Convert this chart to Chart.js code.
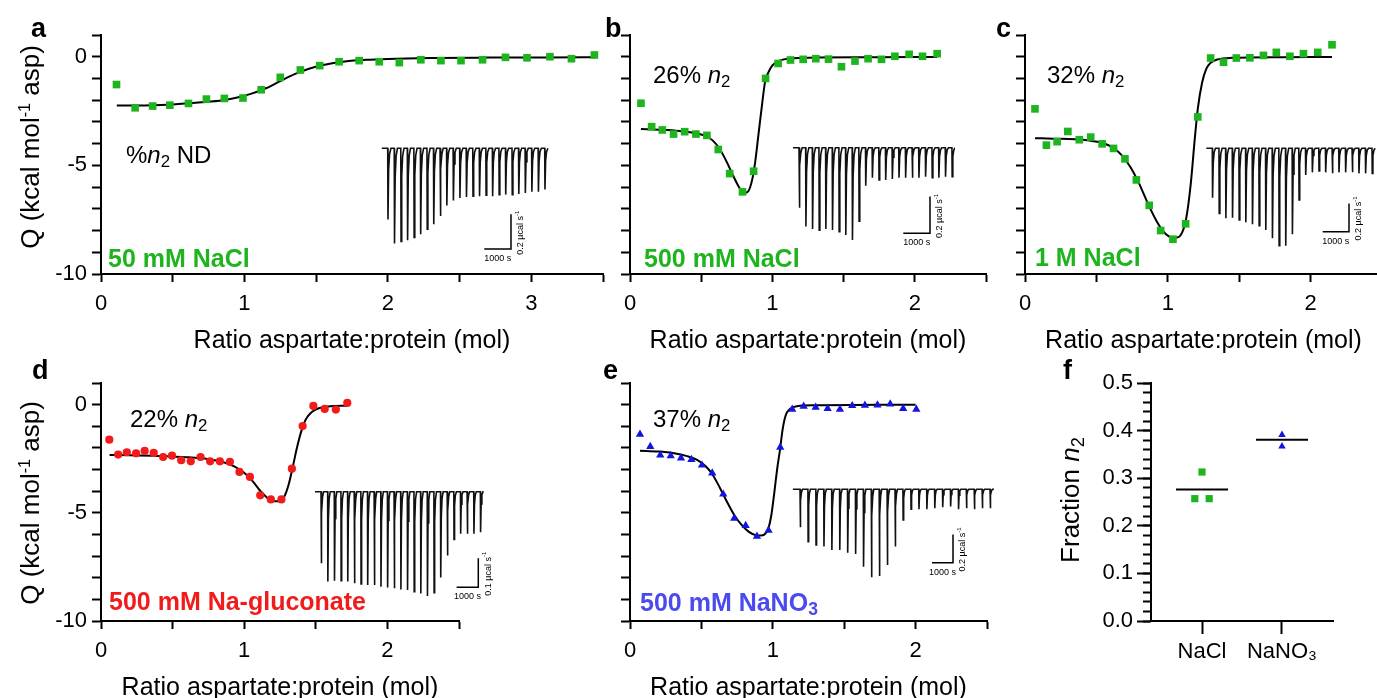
<!DOCTYPE html>
<html>
<head>
<meta charset="utf-8">
<script src="https://cdn.jsdelivr.net/npm/chart.js@4.4.1/dist/chart.umd.min.js"></script>
<style>
html, body { margin: 0; padding: 0; background: #fff; overflow: hidden; width: 1377px; height: 698px; }
body { position: relative; font-family: "Liberation Sans", Arial, sans-serif; color: #000; }
canvas { position: absolute; }
.t { position: absolute; white-space: nowrap; line-height: 1; }
.t sub { font-size: 0.7em; vertical-align: -0.25em; line-height: 0; }
.t sup { font-size: 0.62em; vertical-align: 0.55em; line-height: 0; }
.rot { transform: translate(-50%, -50%) rotate(-90deg); }
</style>
</head>
<body>
<script>
const FONT = '"Liberation Sans", Arial, sans-serif';
const GREEN = '#1eb41e', RED = '#f21b1b', BLUE = '#1414e0', BLUE_TXT = '#4a4aee';

// isotherms: molar ratio vs heat (kcal/mol asp)
const aX = [0.108, 0.238, 0.36, 0.48, 0.61, 0.735, 0.86, 0.99, 1.117, 1.25, 1.39, 1.525, 1.66, 1.8, 1.94, 2.08, 2.23, 2.37, 2.51, 2.66, 2.82, 2.97, 3.13, 3.28, 3.44];
const aQ = [-1.28, -2.35, -2.27, -2.23, -2.15, -1.95, -1.92, -1.9, -1.52, -0.95, -0.61, -0.41, -0.23, -0.18, -0.23, -0.27, -0.14, -0.18, -0.18, -0.14, -0.03, -0.05, 0.0, -0.09, 0.08];
const aFitX = [0.11, 0.3, 0.5, 0.7, 0.85, 0.95, 1.05, 1.15, 1.25, 1.35, 1.45, 1.55, 1.7, 1.85, 2.0, 2.3, 2.7, 3.1, 3.44];
const aFitQ = [-2.25, -2.24, -2.2, -2.1, -2.0, -1.88, -1.7, -1.45, -1.12, -0.8, -0.55, -0.38, -0.22, -0.14, -0.1, -0.06, -0.04, -0.03, -0.02];

const bX = [0.077, 0.152, 0.227, 0.306, 0.384, 0.463, 0.54, 0.62, 0.70, 0.79, 0.868, 0.952, 1.04, 1.127, 1.216, 1.305, 1.394, 1.485, 1.58, 1.672, 1.766, 1.86, 1.96, 2.054, 2.157];
const bQ = [-2.14, -3.22, -3.37, -3.56, -3.45, -3.56, -3.62, -4.27, -5.38, -6.22, -5.27, -1.0, -0.31, -0.15, -0.12, -0.09, -0.11, -0.46, -0.2, -0.09, -0.12, 0.02, 0.11, 0.02, 0.14];
const bFitX = [0.077, 0.2, 0.35, 0.45, 0.52, 0.58, 0.63, 0.68, 0.73, 0.77, 0.8, 0.83, 0.86, 0.88, 0.9, 0.92, 0.95, 0.97, 1.0, 1.05, 1.12, 1.3, 1.7, 2.157];
const bFitQ = [-3.33, -3.36, -3.42, -3.5, -3.62, -3.85, -4.25, -4.85, -5.55, -6.05, -6.28, -6.2, -5.6, -4.8, -3.7, -2.6, -1.1, -0.75, -0.4, -0.18, -0.08, -0.04, -0.02, -0.01];

const cX = [0.07, 0.15, 0.225, 0.30, 0.38, 0.46, 0.54, 0.62, 0.70, 0.78, 0.87, 0.95, 1.036, 1.125, 1.21, 1.30, 1.39, 1.48, 1.575, 1.67, 1.76, 1.855, 1.95, 2.05, 2.15];
const cQ = [-2.40, -4.07, -3.91, -3.44, -3.82, -3.70, -4.01, -4.22, -4.70, -5.67, -6.84, -8.0, -8.4, -7.69, -2.77, -0.06, -0.25, -0.06, -0.05, 0.06, 0.2, 0.02, 0.14, 0.2, 0.55];
const cFitX = [0.07, 0.2, 0.35, 0.45, 0.55, 0.62, 0.68, 0.74, 0.8, 0.86, 0.92, 0.97, 1.02, 1.065, 1.1, 1.13, 1.16, 1.19, 1.21, 1.24, 1.27, 1.3, 1.35, 1.45, 1.8, 2.15];
const cFitQ = [-3.75, -3.77, -3.8, -3.86, -3.98, -4.2, -4.55, -5.1, -5.85, -6.75, -7.55, -8.05, -8.3, -8.32, -8.1, -7.4, -5.9, -3.7, -2.4, -1.2, -0.55, -0.28, -0.12, -0.05, -0.02, -0.01];

const dX = [0.058, 0.12, 0.18, 0.245, 0.305, 0.368, 0.434, 0.496, 0.56, 0.627, 0.695, 0.762, 0.83, 0.9, 0.967, 1.04, 1.112, 1.186, 1.26, 1.333, 1.408, 1.483, 1.562, 1.64, 1.72];
const dQ = [-1.62, -2.31, -2.2, -2.25, -2.14, -2.23, -2.42, -2.36, -2.57, -2.62, -2.42, -2.62, -2.62, -2.65, -3.11, -3.34, -4.19, -4.38, -4.38, -2.96, -0.99, -0.06, -0.2, -0.23, 0.08];
const dFitX = [0.06, 0.2, 0.4, 0.6, 0.75, 0.85, 0.93, 1.0, 1.06, 1.11, 1.16, 1.2, 1.25, 1.28, 1.31, 1.34, 1.37, 1.4, 1.43, 1.47, 1.52, 1.6, 1.72];
const dFitQ = [-2.33, -2.34, -2.37, -2.43, -2.52, -2.65, -2.85, -3.15, -3.55, -3.97, -4.3, -4.47, -4.47, -4.25, -3.7, -2.85, -1.95, -1.2, -0.68, -0.35, -0.17, -0.08, -0.05];

const eX = [0.07, 0.142, 0.212, 0.285, 0.357, 0.43, 0.504, 0.576, 0.653, 0.73, 0.81, 0.889, 0.97, 1.052, 1.136, 1.216, 1.3, 1.384, 1.47, 1.556, 1.645, 1.733, 1.822, 1.913, 2.005];
const eQ = [-1.37, -1.94, -2.33, -2.37, -2.47, -2.54, -2.8, -3.16, -4.14, -5.25, -5.59, -6.09, -5.81, -1.97, -0.22, -0.08, -0.12, -0.18, -0.22, -0.05, -0.03, -0.02, 0.03, -0.18, -0.22];
const eFitX = [0.07, 0.2, 0.3, 0.4, 0.47, 0.53, 0.58, 0.63, 0.68, 0.73, 0.78, 0.83, 0.88, 0.92, 0.95, 0.97, 0.99, 1.01, 1.03, 1.05, 1.07, 1.09, 1.12, 1.17, 1.3, 2.0];
const eFitQ = [-2.13, -2.17, -2.24, -2.38, -2.55, -2.85, -3.25, -3.85, -4.5, -5.1, -5.55, -5.87, -6.03, -6.05, -5.95, -5.7, -5.1, -4.1, -3.0, -2.1, -1.1, -0.5, -0.2, -0.07, -0.03, 0.0];

// raw ITC traces: peak heights (µcal/s) and injection spacing (s)
const aPeaks = [0.41, 0.549, 0.537, 0.53, 0.514, 0.495, 0.467, 0.438, 0.39, 0.33, 0.301, 0.286, 0.28, 0.276, 0.276, 0.27, 0.276, 0.267, 0.267, 0.267, 0.263, 0.257, 0.251, 0.251, 0.238];
const bPeaks = [0.327, 0.43, 0.443, 0.449, 0.443, 0.449, 0.458, 0.476, 0.503, 0.40, 0.207, 0.164, 0.176, 0.176, 0.171, 0.164, 0.164, 0.164, 0.164, 0.158, 0.164, 0.164, 0.158, 0.158];
const cPeaks = [0.349, 0.46, 0.495, 0.49, 0.507, 0.523, 0.537, 0.547, 0.578, 0.636, 0.688, 0.688, 0.608, 0.365, 0.189, 0.17, 0.16, 0.17, 0.177, 0.17, 0.17, 0.17, 0.177, 0.177, 0.177];
const dPeaks = [0.247, 0.31, 0.307, 0.307, 0.31, 0.316, 0.318, 0.322, 0.322, 0.328, 0.33, 0.333, 0.337, 0.339, 0.345, 0.351, 0.36, 0.348, 0.296, 0.22, 0.165, 0.145, 0.145, 0.145, 0.14];
const ePeaks = [0.269, 0.37, 0.394, 0.405, 0.429, 0.429, 0.448, 0.457, 0.547, 0.622, 0.613, 0.535, 0.405, 0.217, 0.141, 0.141, 0.141, 0.134, 0.127, 0.122, 0.141, 0.134, 0.141, 0.134, 0.134];
const injSpacing = [245, 249, 253, 306, 377];
const barSeconds = 1000;
const barPower = [0.2, 0.2, 0.2, 0.1, 0.2];

// panel f: fraction n2
const fCats = ['NaCl', 'NaNO\u2083'];
const fNaClX = [1.0, 0.91, 1.09];
const fNaClY = [0.313, 0.257, 0.257];
const fNitX = [2.0, 2.0];
const fNitY = [0.391, 0.367];
const fMeans = [0.276, 0.381];

const pts = (xs, ys) => xs.map((x, i) => ({ x: x, y: ys[i] }));

function addCanvas(left, top, w, h) {
  const cv = document.createElement('canvas');
  cv.width = w; cv.height = h;
  cv.style.left = left + 'px'; cv.style.top = top + 'px';
  cv.style.width = w + 'px'; cv.style.height = h + 'px';
  document.body.appendChild(cv);
  return cv;
}

function addText(html, left, base, size, extra) {
  const d = document.createElement('div');
  d.className = 't';
  d.innerHTML = html;
  d.style.left = left + 'px';
  d.style.top = (base - 0.8465 * size) + 'px';
  d.style.fontSize = size + 'px';
  if (extra) Object.assign(d.style, extra);
  document.body.appendChild(d);
}

function addRotText(html, cx, cy, size) {
  const d = document.createElement('div');
  d.className = 't rot';
  d.innerHTML = html;
  d.style.left = cx + 'px';
  d.style.top = cy + 'px';
  d.style.fontSize = size + 'px';
  document.body.appendChild(d);
}

const axisLine = { color: '#000', width: 2 };
const tickFont = { family: FONT, size: 22 };

function isoPanel(r, xMax, showY, marker, fit) {
  const padT = 20, padR = 15, yW = 80, xH = 80;
  const cv = addCanvas(r.x0 - yW, r.y0 - padT, Math.round(r.x1 - r.x0) + yW + padR, Math.round(r.y1 - r.y0) + padT + xH);
  new Chart(cv, {
    type: 'scatter',
    data: {
      datasets: [
        Object.assign({ showLine: false, borderWidth: 0 }, marker),
        { data: fit, showLine: true, borderColor: '#000', borderWidth: 2, pointRadius: 0, cubicInterpolationMode: 'monotone' }
      ]
    },
    options: {
      responsive: false, animation: false, events: [],
      layout: { padding: { top: padT, right: padR, left: 0, bottom: 0 } },
      plugins: { legend: { display: false }, tooltip: { enabled: false } },
      scales: {
        x: {
          type: 'linear', min: 0, max: xMax,
          border: axisLine,
          grid: { drawOnChartArea: false, tickLength: 8, tickWidth: 2, tickColor: '#000' },
          ticks: { stepSize: 0.5, autoSkip: false, maxRotation: 0, padding: 9, color: '#000', font: tickFont,
                   callback: v => Number.isInteger(v) ? String(v) : '' },
          title: { display: true, text: 'Ratio aspartate:protein (mol)', color: '#000', padding: 0,
                   font: { family: FONT, size: 25, lineHeight: 1 } },
          afterFit: s => { s.height = xH; }
        },
        y: {
          type: 'linear', min: -10, max: 1,
          border: axisLine,
          grid: { drawOnChartArea: false, tickLength: 9, tickWidth: 2, tickColor: '#000' },
          ticks: { stepSize: 1, autoSkip: false, padding: 5, color: '#000', font: tickFont,
                   callback: v => (showY && (v === 0 || v === -5 || v === -10)) ? String(v) : '' },
          afterFit: s => { s.width = yW; }
        }
      }
    }
  });
}

const sq = c => ({ pointStyle: 'rect', pointRadius: 5.4, backgroundColor: c });

isoPanel({ x0: 101, x1: 603.3, y0: 35, y1: 274 }, 3.5, true, Object.assign({ data: pts(aX, aQ) }, sq(GREEN)), pts(aFitX, aFitQ));
isoPanel({ x0: 630, x1: 986, y0: 35, y1: 274 }, 2.5, false, Object.assign({ data: pts(bX, bQ) }, sq(GREEN)), pts(bFitX, bFitQ));
isoPanel({ x0: 1025, x1: 1382, y0: 35, y1: 274 }, 2.5, false, Object.assign({ data: pts(cX, cQ) }, sq(GREEN)), pts(cFitX, cFitQ));
isoPanel({ x0: 101, x1: 458.5, y0: 382.7, y1: 620.7 }, 2.5, true,
  { data: pts(dX, dQ), pointStyle: 'circle', pointRadius: 4.1, backgroundColor: RED }, pts(dFitX, dFitQ));
isoPanel({ x0: 630, x1: 987, y0: 383, y1: 621 }, 2.5, false,
  { data: pts(eX, eQ), pointStyle: 'triangle', pointRadius: 4.8, backgroundColor: BLUE }, pts(eFitX, eFitQ));

// panel f
(function () {
  const r = { x0: 1151, x1: 1333, y0: 382.7, y1: 620.7 };
  const padT = 20, padR = 20, yW = 80, xH = 60;
  const cv = addCanvas(r.x0 - yW, r.y0 - padT, Math.round(r.x1 - r.x0) + yW + padR, Math.round(r.y1 - r.y0) + padT + xH);
  const meanSet = (cx, m) => ({ data: [{ x: cx - 0.325, y: m }, { x: cx + 0.325, y: m }], showLine: true,
    borderColor: '#000', borderWidth: 2, pointRadius: 0 });
  new Chart(cv, {
    type: 'scatter',
    data: {
      datasets: [
        { data: pts(fNaClX, fNaClY), pointStyle: 'rect', pointRadius: 5.1, backgroundColor: GREEN, borderWidth: 0 },
        { data: pts(fNitX, fNitY), pointStyle: 'triangle', pointRadius: 4.3, backgroundColor: BLUE, borderWidth: 0 },
        meanSet(1, fMeans[0]),
        meanSet(2, fMeans[1])
      ]
    },
    options: {
      responsive: false, animation: false, events: [],
      layout: { padding: { top: padT, right: padR, left: 0, bottom: 0 } },
      plugins: { legend: { display: false }, tooltip: { enabled: false } },
      scales: {
        x: {
          type: 'linear', min: 0.3625, max: 2.6375,
          border: axisLine,
          grid: { drawOnChartArea: false, tickLength: 13, tickWidth: 2, tickColor: '#000' },
          afterBuildTicks: s => { s.ticks = [{ value: 1 }, { value: 2 }]; },
          ticks: { autoSkip: false, maxRotation: 0, padding: 5, color: '#000', font: tickFont,
                   callback: v => fCats[Math.round(v) - 1] },
          afterFit: s => { s.height = xH; }
        },
        y: {
          type: 'linear', min: 0, max: 0.5, weight: 1,
          border: axisLine,
          grid: { drawOnChartArea: false, tickLength: 14, tickWidth: 2, tickColor: '#000' },
          ticks: { stepSize: 0.1, autoSkip: false, padding: 4, color: '#000', font: tickFont,
                   callback: v => v.toFixed(1) },
          afterFit: s => { s.width = yW; }
        },
        yMinor: {
          type: 'linear', position: 'left', min: 0, max: 0.5, weight: 0,
          border: { display: false },
          grid: { drawOnChartArea: false, tickLength: 8, tickWidth: 2, tickColor: '#000' },
          ticks: { stepSize: 0.02, autoSkip: false, display: false },
          afterFit: s => { s.width = 0; }
        }
      }
    }
  });
})();

// scale bar labels for the raw traces
const barLabels = {
  id: 'barLabels',
  afterDatasetsDraw(chart, args, o) {
    const { ctx } = chart;
    const x = chart.scales.x, y = chart.scales.y;
    const bx0 = x.getPixelForValue(o.t0), bx1 = x.getPixelForValue(o.t1);
    const by0 = y.getPixelForValue(o.q0), by1 = y.getPixelForValue(o.q1);
    ctx.save();
    ctx.fillStyle = '#000';
    ctx.font = '9px ' + FONT;
    ctx.textAlign = 'center';
    ctx.textBaseline = 'middle';
    ctx.fillText('1000 s', (bx0 + bx1) / 2, by0 + 9.5);
    ctx.translate(bx1 + 10, (by0 + by1) / 2 + 1);
    ctx.rotate(-Math.PI / 2);
    const main = o.label + ' \u00b5cal s';
    const w1 = ctx.measureText(main).width;
    ctx.font = '6px ' + FONT;
    const w2 = ctx.measureText('-1').width;
    const start = -(w1 + w2) / 2;
    ctx.textAlign = 'left';
    ctx.font = '9px ' + FONT;
    ctx.fillText(main, start, 0);
    ctx.font = '6px ' + FONT;
    ctx.fillText('-1', start + w1, -4);
    ctx.restore();
  }
};

function inset(box, lay, peaks, spacing, barQ) {
  const cv = addCanvas(box.l, box.t, box.w, box.h);
  const trace = [{ x: -0.9 * spacing, y: 0 }];
  peaks.forEach((p, i) => {
    const t = i * spacing;
    trace.push({ x: t, y: 0 }, { x: t + 10, y: -p }, { x: t + 35, y: -0.3 * p }, { x: t + 70, y: -0.08 * p }, { x: t + 120, y: 0 });
  });
  trace.push({ x: (peaks.length - 0.5) * spacing, y: 0 });
  const t1 = (lay.barRight - lay.firstX) / lay.secPx;
  const q0 = (lay.baseY - lay.barBottom) / lay.qPx;
  const bar = [{ x: t1 - barSeconds, y: q0 }, { x: t1, y: q0 }, { x: t1, y: q0 + barQ }];
  new Chart(cv, {
    type: 'scatter',
    data: {
      datasets: [
        { data: trace, showLine: true, borderColor: '#111', borderWidth: 1.6, pointRadius: 0 },
        { data: bar, showLine: true, borderColor: '#000', borderWidth: 1.5, pointRadius: 0 }
      ]
    },
    options: {
      responsive: false, animation: false, events: [],
      layout: { padding: 0 },
      plugins: { legend: { display: false }, tooltip: { enabled: false },
                 barLabels: { t0: t1 - barSeconds, t1: t1, q0: q0, q1: q0 + barQ, label: String(barQ) } },
      scales: {
        x: { type: 'linear', display: false,
             min: (box.l - lay.firstX) / lay.secPx, max: (box.l + box.w - lay.firstX) / lay.secPx },
        y: { type: 'linear', display: false,
             min: (lay.baseY - box.t - box.h) / lay.qPx, max: (lay.baseY - box.t) / lay.qPx }
      }
    },
    plugins: [barLabels]
  });
}

inset({ l: 378, t: 138, w: 182, h: 132 }, { firstX: 387.7, baseY: 148.3, secPx: 0.0267, qPx: 173.5, barRight: 511, barBottom: 249 }, aPeaks, injSpacing[0], barPower[0]);
inset({ l: 788, t: 138, w: 167, h: 112 }, { firstX: 799, baseY: 147.7, secPx: 0.0267, qPx: 183.5, barRight: 930, barBottom: 233.3 }, bPeaks, injSpacing[1], barPower[1]);
inset({ l: 1200, t: 138, w: 177, h: 112 }, { firstX: 1212.3, baseY: 148.3, secPx: 0.0263, qPx: 141.5, barRight: 1349, barBottom: 231.7 }, cPeaks, injSpacing[2], barPower[2]);
inset({ l: 308, t: 480, w: 195, h: 125 }, { firstX: 321, baseY: 491.7, secPx: 0.0217, qPx: 290, barRight: 478.3, barBottom: 587.3 }, dPeaks, injSpacing[3], barPower[3]);
inset({ l: 788, t: 480, w: 215, h: 105 }, { firstX: 800, baseY: 489.3, secPx: 0.021, qPx: 141.5, barRight: 953, barBottom: 562.7 }, ePeaks, injSpacing[4], barPower[4]);

// panel letters
const bold = { fontWeight: 'bold' };
addText('a', 31, 38, 27, bold);
addText('b', 605, 38, 27, bold);
addText('c', 996, 38, 27, bold);
addText('d', 32, 380, 27, bold);
addText('e', 603, 380, 27, bold);
addText('f', 1063, 380, 27, bold);

// annotations
addText('%<i>n</i><sub>2</sub> ND', 126, 163, 24);
addText('26% <i>n</i><sub>2</sub>', 653, 83, 24);
addText('32% <i>n</i><sub>2</sub>', 1047, 83, 24);
addText('22% <i>n</i><sub>2</sub>', 130, 427, 24);
addText('37% <i>n</i><sub>2</sub>', 653, 427, 24);

addText('50 mM NaCl', 108, 267, 25, { fontWeight: 'bold', color: GREEN });
addText('500 mM NaCl', 644, 267, 25, { fontWeight: 'bold', color: GREEN });
addText('1 M NaCl', 1035, 266, 25, { fontWeight: 'bold', color: GREEN });
addText('500 mM Na-gluconate', 109, 610, 25, { fontWeight: 'bold', color: RED });
addText('500 mM NaNO<sub>3</sub>', 640, 611, 25, { fontWeight: 'bold', color: BLUE_TXT });

// y titles
addRotText('Q (kcal mol<sup>-1</sup> asp)', 30, 147, 26);
addRotText('Q (kcal mol<sup>-1</sup> asp)', 30, 503, 26);
addRotText('Fraction <i>n</i><sub>2</sub>', 1070, 500, 26);
</script>
</body>
</html>
